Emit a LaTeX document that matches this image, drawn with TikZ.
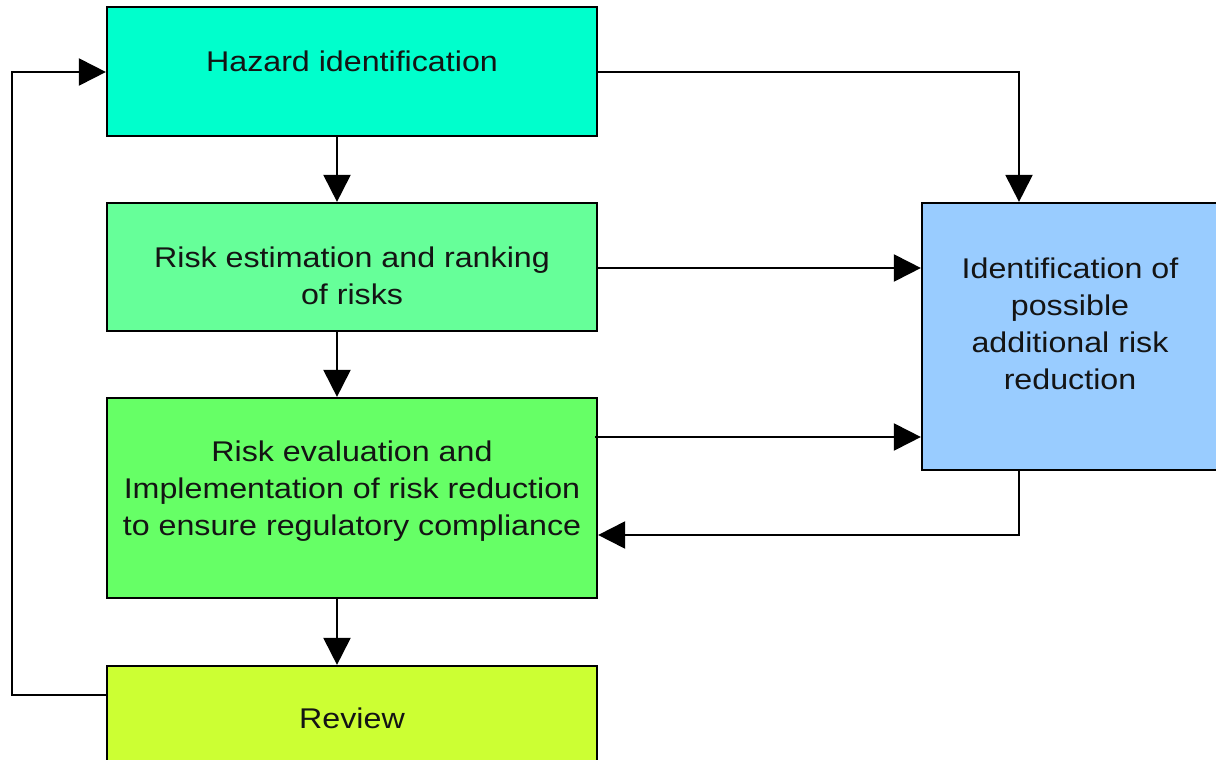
\documentclass[tikz,border=0pt]{standalone}
\usepackage{fontspec}
\setmainfont{Liberation Sans}[FakeStretch=1.13]
\usetikzlibrary{arrows.meta}
\definecolor{chaz}{HTML}{00FFCC}
\definecolor{cest}{HTML}{66FF99}
\definecolor{ceval}{HTML}{66FF66}
\definecolor{crev}{HTML}{CCFF33}
\definecolor{cide}{HTML}{99CCFF}
\begin{document}
\begin{tikzpicture}[x=1pt,y=-1pt,
  box/.style={draw=black,line width=2.2pt,inner sep=0pt},
  lbl/.style={font=\fontsize{28.5}{37}\selectfont,align=center,text=black!92,inner sep=0pt},
  conn/.style={line width=2pt,-{Triangle[length=27pt,width=27pt]}}]
\useasboundingbox (0,0) rectangle (1216,760);
\fill[white] (0,0) rectangle (1216,760);
% boxes
\node[box,fill=chaz,minimum width=490pt,minimum height=129pt] (haz) at (352,71.5) {};
\node[box,fill=cest,minimum width=490pt,minimum height=128pt] (est) at (352,267) {};
\node[box,fill=ceval,minimum width=490pt,minimum height=200pt] (eval) at (352,498) {};
\node[box,fill=crev,minimum width=490pt,minimum height=112pt] (rev) at (352,722) {};
\node[box,fill=cide,minimum width=306pt,minimum height=267pt] (ide) at (1075,336.5) {};
% labels
\node[lbl] (tHaz) at (352,61.5) {Hazard identification};
\node[lbl] (tEst) at (352,275.5) {Risk estimation and ranking\\of risks};
\node[lbl] (tEval) at (352,491) {Risk evaluation and\\Implementation of risk reduction\\to ensure regulatory compliance};
\node[lbl] (tRev) at (352,718) {Review};
\node[lbl] (tIde) at (1070,324) {Identification of\\possible\\additional risk\\reduction};
% connector bends
\coordinate (L1) at (12,695);
\coordinate (L2) at (12,72);
\coordinate (R1) at (1019,72);
\coordinate (M1) at (600,268);
\coordinate (M2) at (595,437);
\coordinate (B1) at (1019,535);
\coordinate (V) at (337,0);
% connectors
\draw[conn] (haz.south -| V) -- (est.north -| V);
\draw[conn] (est.south -| V) -- (eval.north -| V);
\draw[conn] (eval.south -| V) -- (rev.north -| V);
\draw[conn] (rev.west |- L1) -- (L1) -- (L2) -- (haz.west |- L2);
\draw[conn] (haz.east |- R1) -- (R1) -- (ide.north -| R1);
\draw[conn] (est.east |- M1) -- (ide.west |- M1);
\draw[conn] (M2) -- (ide.west |- M2);
\draw[conn] (ide.south -| B1) -- (B1) -- (eval.east |- B1);
\end{tikzpicture}
\end{document}
